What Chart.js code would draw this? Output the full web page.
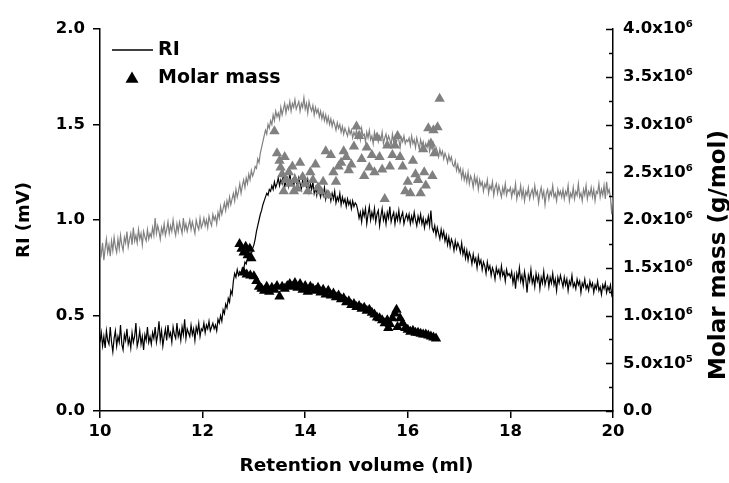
<!DOCTYPE html>
<html>
<head>
<meta charset="utf-8">
<script src="https://cdn.jsdelivr.net/npm/chart.js@4"></script>
<style>
    html, body { margin: 0; padding: 0; background: #fff; }
</style>
</head>
<body>
<canvas id="gpcChart" width="729" height="483"></canvas>
<script>
/* ========================================
   GPC trace: RI signal + molar mass
   ======================================== */

// RI traces are sampled every 0.025 ml from 10 to 20 ml (one row = 1 ml)
const rvStart = 10;
const rvStep = 0.025;

// black RI trace (mV)
const riBlack = [
    0.36,0.41,0.34,0.39,0.33,0.42,0.37,0.35,0.44,0.36,0.31,0.38,0.42,0.34,0.39,0.36,0.45,0.35,0.32,0.40,0.37,0.43,0.35,0.38,0.33,0.41,0.36,0.39,0.46,0.34,0.37,0.42,0.35,0.39,0.32,0.40,0.37,0.44,0.36,0.39,
    0.35,0.41,0.38,0.44,0.36,0.40,0.47,0.37,0.42,0.34,0.39,0.43,0.37,0.45,0.39,0.41,0.36,0.44,0.40,0.38,0.46,0.39,0.42,0.37,0.44,0.40,0.48,0.38,0.43,0.41,0.39,0.45,0.40,0.43,0.37,0.44,0.41,0.46,0.39,0.43,
    0.42,0.46,0.41,0.45,0.43,0.47,0.42,0.44,0.46,0.43,0.45,0.42,0.48,0.46,0.50,0.47,0.53,0.51,0.56,0.54,0.59,0.57,0.63,0.61,0.68,0.72,0.70,0.74,0.71,0.73,0.72,0.75,0.74,0.78,0.77,0.80,0.79,0.83,0.82,0.85,
    0.87,0.90,0.94,0.97,1.00,1.03,1.05,1.08,1.10,1.12,1.14,1.13,1.16,1.15,1.18,1.16,1.20,1.17,1.19,1.22,1.18,1.21,1.19,1.24,1.17,1.20,1.22,1.18,1.25,1.19,1.21,1.17,1.23,1.20,1.18,1.22,1.19,1.16,1.21,1.18,
    1.20,1.17,1.21,1.15,1.19,1.16,1.20,1.14,1.17,1.13,1.18,1.15,1.12,1.16,1.13,1.17,1.11,1.15,1.12,1.14,1.10,1.14,1.11,1.15,1.09,1.12,1.10,1.14,1.08,1.12,1.09,1.11,1.07,1.11,1.08,1.10,1.06,1.10,1.07,1.09,
    1.08,1.05,1.01,1.04,0.99,1.05,1.02,1.06,0.98,1.03,1.07,1.00,1.04,1.01,1.06,0.99,1.03,1.05,0.97,1.02,1.06,1.00,1.03,0.98,1.04,1.01,1.07,0.99,1.02,1.04,0.98,1.03,1.00,1.05,0.99,1.02,1.04,0.98,1.01,1.03,
    1.00,1.03,0.98,1.02,0.99,1.04,1.00,0.97,1.02,0.99,1.03,0.98,1.01,0.96,1.00,0.98,1.02,0.97,1.05,0.96,0.94,0.97,0.92,0.96,0.93,0.90,0.95,0.91,0.94,0.89,0.92,0.87,0.91,0.86,0.90,0.88,0.84,0.89,0.85,0.88,
    0.86,0.83,0.88,0.82,0.85,0.80,0.84,0.79,0.83,0.81,0.77,0.82,0.78,0.80,0.75,0.81,0.77,0.79,0.74,0.78,0.76,0.72,0.78,0.74,0.76,0.71,0.75,0.73,0.69,0.75,0.72,0.74,0.70,0.76,0.71,0.73,0.68,0.74,0.71,0.72,
    0.70,0.73,0.67,0.71,0.64,0.72,0.69,0.75,0.68,0.71,0.66,0.73,0.69,0.62,0.71,0.68,0.74,0.67,0.70,0.65,0.72,0.68,0.71,0.64,0.70,0.67,0.73,0.66,0.69,0.71,0.65,0.70,0.67,0.72,0.66,0.69,0.63,0.70,0.67,0.71,
    0.68,0.65,0.70,0.66,0.69,0.63,0.68,0.66,0.71,0.65,0.67,0.64,0.69,0.66,0.68,0.62,0.67,0.65,0.69,0.64,0.66,0.63,0.68,0.65,0.67,0.62,0.66,0.64,0.68,0.63,0.65,0.61,0.66,0.64,0.67,0.62,0.65,0.63,0.66,0.61,
    0.64
];

// grey RI trace (mV)
const riGrey = [
    0.86,0.82,0.88,0.79,0.85,0.90,0.83,0.87,0.81,0.89,0.84,0.91,0.86,0.83,0.90,0.85,0.92,0.87,0.84,0.91,0.88,0.94,0.86,0.90,0.93,0.87,0.96,0.89,0.92,0.88,0.95,0.90,0.93,0.87,0.94,0.91,0.89,0.95,0.90,0.93,
    0.91,0.96,0.92,1.01,0.93,0.97,0.94,0.90,0.96,0.93,0.98,0.92,0.95,0.99,0.93,0.97,0.94,1.00,0.95,0.92,0.98,0.94,0.99,0.96,0.93,1.01,0.95,0.98,0.94,0.97,1.00,0.95,0.99,0.96,0.93,1.00,0.97,0.95,1.01,0.96,
    0.98,1.01,0.97,1.00,0.96,1.02,0.99,0.97,1.03,1.00,1.02,0.98,1.04,1.01,1.07,1.03,1.06,1.09,1.05,1.10,1.07,1.12,1.08,1.11,1.14,1.10,1.16,1.12,1.15,1.19,1.14,1.18,1.21,1.17,1.22,1.19,1.24,1.21,1.26,1.23,
    1.25,1.28,1.27,1.32,1.30,1.35,1.38,1.41,1.44,1.47,1.45,1.50,1.48,1.52,1.50,1.55,1.52,1.57,1.54,1.56,1.53,1.59,1.55,1.58,1.61,1.56,1.60,1.58,1.62,1.57,1.61,1.59,1.63,1.58,1.60,1.62,1.57,1.61,1.59,1.64,
    1.58,1.61,1.56,1.62,1.59,1.57,1.60,1.55,1.59,1.56,1.58,1.54,1.57,1.53,1.56,1.52,1.55,1.51,1.54,1.50,1.53,1.49,1.52,1.50,1.47,1.51,1.48,1.50,1.46,1.49,1.45,1.48,1.46,1.44,1.48,1.45,1.47,1.43,1.46,1.44,
    1.47,1.43,1.46,1.42,1.48,1.44,1.45,1.41,1.46,1.43,1.47,1.42,1.44,1.40,1.46,1.43,1.45,1.41,1.44,1.42,1.46,1.40,1.43,1.45,1.41,1.44,1.42,1.39,1.45,1.41,1.43,1.40,1.44,1.42,1.38,1.43,1.41,1.44,1.40,1.42,
    1.41,1.43,1.39,1.44,1.40,1.42,1.38,1.43,1.40,1.37,1.42,1.39,1.41,1.37,1.40,1.38,1.41,1.36,1.39,1.37,1.40,1.35,1.38,1.36,1.33,1.37,1.34,1.36,1.32,1.35,1.33,1.30,1.34,1.31,1.33,1.29,1.28,1.31,1.26,1.29,
    1.25,1.27,1.22,1.26,1.21,1.24,1.20,1.25,1.19,1.23,1.21,1.17,1.23,1.19,1.22,1.16,1.21,1.18,1.20,1.15,1.19,1.17,1.21,1.14,1.18,1.16,1.20,1.13,1.17,1.19,1.14,1.18,1.15,1.12,1.17,1.14,1.19,1.13,1.16,1.15,
    1.17,1.12,1.16,1.14,1.19,1.11,1.15,1.13,1.18,1.12,1.16,1.10,1.15,1.13,1.17,1.11,1.14,1.16,1.12,1.18,1.13,1.15,1.09,1.14,1.17,1.12,1.15,1.08,1.14,1.16,1.11,1.15,1.13,1.18,1.12,1.14,1.10,1.16,1.13,1.15,
    1.12,1.16,1.11,1.15,1.13,1.18,1.10,1.14,1.12,1.17,1.11,1.15,1.13,1.19,1.12,1.14,1.10,1.16,1.13,1.18,1.11,1.15,1.13,1.17,1.12,1.16,1.10,1.15,1.14,1.19,1.12,1.16,1.13,1.18,1.11,1.20,1.14,1.16,1.12,1.03,
    1.13
];

// black molar mass points (ml, g/mol)
const mmBlackVol = [
    12.72,12.76,12.80,12.84,12.88,12.92,12.95,
    12.80,12.86,12.93,13.00,13.05,13.10,13.15,13.20,13.25,13.30,13.35,13.40,13.45,13.50,
    13.55,13.60,13.65,13.70,13.75,13.80,13.85,13.90,13.95,14.00,14.05,14.10,14.15,14.20,
    14.25,14.30,14.35,14.40,14.45,14.50,14.55,14.60,14.65,14.70,14.75,14.80,14.85,14.90,
    14.95,15.00,15.05,15.10,15.15,15.20,15.25,15.30,15.35,15.40,15.45,15.50,15.55,15.60,
    15.62,15.65,15.70,15.75,15.78,15.80,15.85,15.90,15.95,16.00,16.05,16.10,16.15,16.20,
    16.25,16.30,16.35,16.40,16.45,16.50,16.55
];
const mmBlack = [
    1.75e6,1.70e6,1.66e6,1.72e6,1.63e6,1.70e6,1.60e6,
    1.45e6,1.43e6,1.42e6,1.41e6,1.36e6,1.30e6,1.28e6,1.26e6,1.30e6,1.25e6,1.29e6,1.27e6,1.31e6,1.20e6,
    1.30e6,1.28e6,1.31e6,1.33e6,1.30e6,1.34e6,1.29e6,1.33e6,1.27e6,1.31e6,1.25e6,1.30e6,1.28e6,1.26e6,
    1.29e6,1.24e6,1.27e6,1.22e6,1.26e6,1.21e6,1.23e6,1.19e6,1.21e6,1.17e6,1.18e6,1.14e6,1.15e6,1.11e6,
    1.12e6,1.09e6,1.10e6,1.07e6,1.08e6,1.05e6,1.06e6,1.03e6,1.01e6,0.98e6,0.97e6,0.95e6,0.92e6,0.95e6,
    0.87e6,0.91e6,0.97e6,1.02e6,1.06e6,0.88e6,0.97e6,0.92e6,0.87e6,0.85e6,0.83e6,0.84e6,0.82e6,0.82e6,
    0.81e6,0.80e6,0.80e6,0.79e6,0.78e6,0.77e6,0.76e6
];

// grey molar mass points (ml, g/mol)
const mmGreyVol = [
    13.40,13.45,13.50,13.52,13.55,13.58,13.60,13.62,13.68,13.70,13.75,13.78,13.80,13.85,13.90,
    13.95,14.00,14.05,14.10,14.15,14.20,14.25,14.30,14.35,14.40,14.45,14.50,14.55,14.60,14.65,
    14.70,14.75,14.80,14.85,14.90,14.95,15.00,15.05,15.10,15.15,15.20,15.25,15.30,15.35,15.40,
    15.45,15.50,15.55,15.60,15.65,15.70,15.75,15.80,15.85,15.90,15.95,16.00,16.05,16.10,16.15,
    16.20,16.25,16.30,16.32,16.35,16.40,16.45,16.48,16.50,16.52,16.58,16.62
];
const mmGrey = [
    2.93e6,2.70e6,2.62e6,2.55e6,2.48e6,2.30e6,2.66e6,2.42e6,2.50e6,2.38e6,2.56e6,2.30e6,2.42e6,2.33e6,2.60e6,
    2.45e6,2.38e6,2.30e6,2.50e6,2.42e6,2.58e6,2.34e6,2.30e6,2.40e6,2.72e6,2.26e6,2.68e6,2.50e6,2.40e6,2.56e6,
    2.60e6,2.72e6,2.66e6,2.52e6,2.58e6,2.77e6,2.98e6,2.88e6,2.64e6,2.46e6,2.76e6,2.55e6,2.68e6,2.50e6,2.86e6,
    2.66e6,2.53e6,2.22e6,2.78e6,2.56e6,2.68e6,2.78e6,2.88e6,2.66e6,2.56e6,2.30e6,2.40e6,2.28e6,2.62e6,2.48e6,
    2.42e6,2.28e6,2.74e6,2.50e6,2.36e6,2.96e6,2.80e6,2.46e6,2.94e6,2.70e6,2.97e6,3.27e6
];

const GREY = '#808080';
const FONT = '"DejaVu Sans", "Liberation Sans", Arial, sans-serif';

Chart.defaults.font.family = FONT;
Chart.defaults.font.weight = 'bold';
Chart.defaults.color = '#000';

function trace(values) {
    return values.map((v, i) => ({ x: rvStart + i * rvStep, y: v }));
}

function pairs(xs, ys) {
    return xs.map((x, i) => ({ x: x, y: ys[i] }));
}

function massLabel(v) {
    if (v % 500000 !== 0) return '';
    if (v === 0) return '0.0';
    if (v >= 1e6) return (v / 1e6).toFixed(1) + 'x10\u2076';
    return (v / 1e5).toFixed(1) + 'x10\u2075';
}

// legend, right-axis inward ticks and right title are drawn by hand
const decorPlugin = {
    id: 'decor',
    beforeDraw(chart) {
        const c = chart.ctx;
        c.save();
        c.fillStyle = '#fff';
        c.fillRect(0, 0, chart.width, chart.height);
        c.restore();
    },
    afterDraw(chart) {
        const c = chart.ctx;
        const a = chart.chartArea;
        const y2 = chart.scales.y2;
        c.save();

        // inward ticks on the right axis (minor ones shorter)
        c.strokeStyle = '#000';
        c.lineWidth = 1.5;
        y2.ticks.forEach(t => {
            const py = Math.round(y2.getPixelForValue(t.value)) + 0.5;
            const len = t.value % 500000 === 0 ? 7 : 4;
            c.beginPath();
            c.moveTo(a.right - len, py);
            c.lineTo(a.right, py);
            c.stroke();
        });

        c.fillStyle = '#000';
        c.font = 'bold 19px ' + FONT;
        c.textBaseline = 'middle';

        // RI line sample
        c.lineWidth = 1.5;
        c.beginPath();
        c.moveTo(a.left + 12, a.top + 21);
        c.lineTo(a.left + 53, a.top + 21);
        c.stroke();
        c.fillText('RI', a.left + 58, a.top + 21);

        // triangle sample
        const tx = a.left + 32, ty = a.top + 50, r = 7.5;
        c.beginPath();
        c.moveTo(tx, ty - r);
        c.lineTo(tx + r * 0.866, ty + r * 0.5);
        c.lineTo(tx - r * 0.866, ty + r * 0.5);
        c.closePath();
        c.fill();
        c.fillText('Molar mass', a.left + 58, a.top + 49);

        // right axis title, reading upward
        c.font = 'bold 23px ' + FONT;
        c.translate(719, 255);
        c.rotate(-Math.PI / 2);
        c.textAlign = 'center';
        c.fillText('Molar mass (g/mol)', 0, 0);
        c.restore();
    }
};

const ctx = document.getElementById('gpcChart');

new Chart(ctx, {
    type: 'scatter',
    data: {
        datasets: [
            {
                label: 'Molar mass',
                data: pairs(mmBlackVol, mmBlack),
                yAxisID: 'y2',
                pointStyle: 'triangle',
                pointRadius: 6,
                backgroundColor: '#000',
                borderColor: '#000',
                borderWidth: 0
            },
            {
                label: 'Molar mass (grey)',
                data: pairs(mmGreyVol, mmGrey),
                yAxisID: 'y2',
                pointStyle: 'triangle',
                pointRadius: 6,
                backgroundColor: GREY,
                borderColor: GREY,
                borderWidth: 0
            },
            {
                label: 'RI',
                data: trace(riBlack),
                yAxisID: 'y',
                showLine: true,
                pointRadius: 0,
                borderColor: '#000',
                borderWidth: 1.2
            },
            {
                label: 'RI (grey)',
                data: trace(riGrey),
                yAxisID: 'y',
                showLine: true,
                pointRadius: 0,
                borderColor: GREY,
                borderWidth: 1.2
            }
        ]
    },
    options: {
        animation: false,
        responsive: false,
        layout: { padding: { top: 29, right: 0, bottom: 0, left: 0 } },
        plugins: {
            legend: { display: false },
            tooltip: { enabled: false }
        },
        scales: {
            x: {
                type: 'linear',
                min: 10,
                max: 20,
                afterFit: s => { s.height = 72; },
                ticks: { stepSize: 2, padding: 4, font: { size: 16.5 } },
                grid: { drawOnChartArea: false, tickLength: 7, color: '#000', lineWidth: 1.5 },
                border: { color: '#000', width: 1.5 },
                title: { display: true, text: 'Retention volume (ml)', font: { size: 18.5 }, padding: { bottom: 6 } }
            },
            y: {
                position: 'left',
                min: 0,
                max: 2,
                afterFit: s => { s.width = 100; },
                ticks: { stepSize: 0.5, padding: 8, font: { size: 16.5 }, callback: v => v.toFixed(1) },
                grid: { drawOnChartArea: false, tickLength: 7, color: '#000', lineWidth: 1.5 },
                border: { color: '#000', width: 1.5 },
                title: { display: true, text: 'RI (mV)', font: { size: 18 }, padding: { top: 14 } }
            },
            y2: {
                position: 'right',
                min: 0,
                max: 4e6,
                afterFit: s => { s.width = 116; },
                ticks: { stepSize: 250000, autoSkip: false, padding: 10, font: { size: 16.5 }, callback: massLabel },
                grid: { drawOnChartArea: false, drawTicks: false },
                border: { color: '#000', width: 1.5 }
            }
        }
    },
    plugins: [decorPlugin]
});
</script>
</body>
</html>
